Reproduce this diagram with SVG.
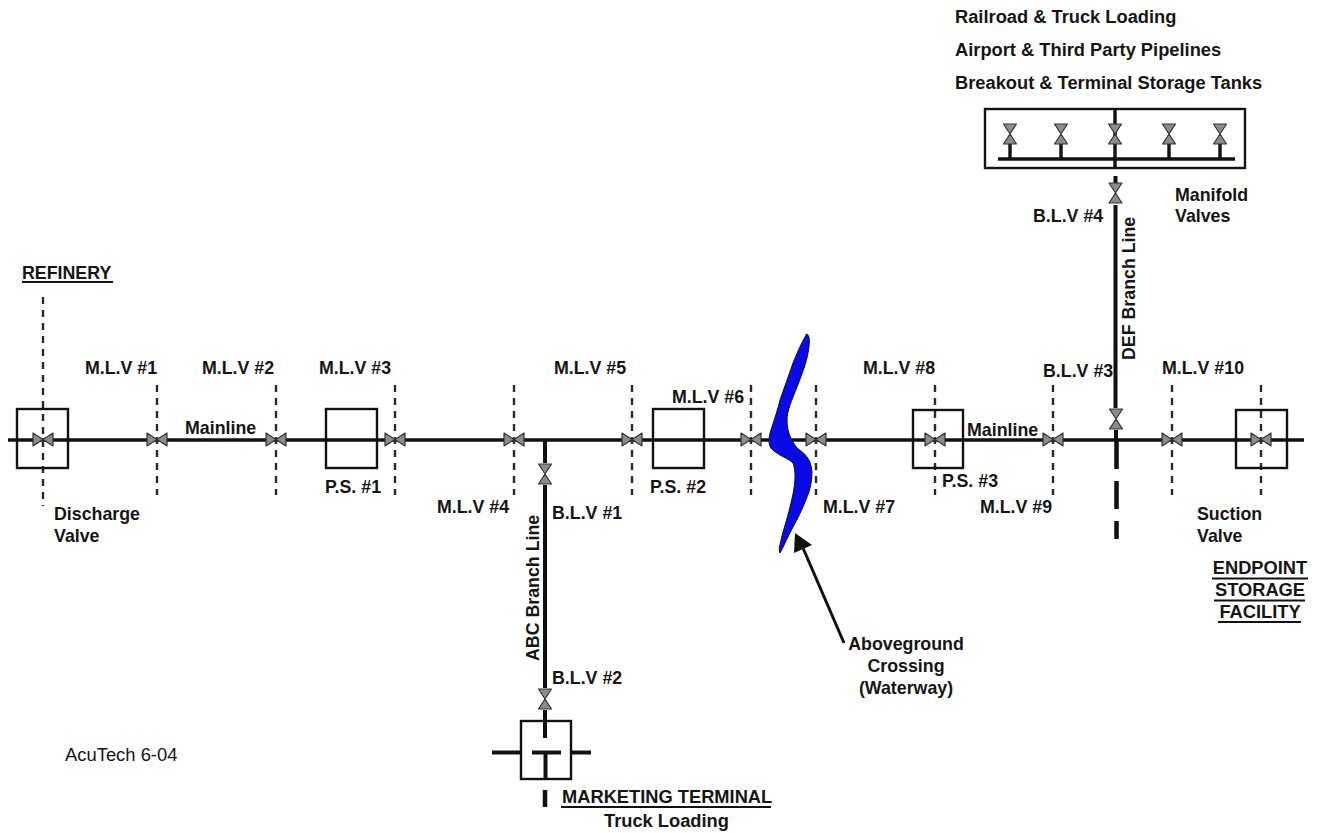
<svg xmlns="http://www.w3.org/2000/svg" width="1318" height="833" viewBox="0 0 1318 833">
<style>
text{font-family:"Liberation Sans",Arial,sans-serif;font-weight:700;font-size:17.8px;fill:#151515}
text.l{font-size:18.3px}
.n{font-weight:400;font-size:18.4px}
.m{text-anchor:middle}
.box{fill:none;stroke:#111;stroke-width:2.4}
.pipe{fill:none;stroke:#111;stroke-width:3.4}
.br{fill:none;stroke:#111;stroke-width:4}
.dash{fill:none;stroke:#2a2a2a;stroke-width:2.4;stroke-dasharray:7 6}
.thick{fill:none;stroke:#111;stroke-width:4.5}
.v{fill:#8c8c8c;stroke:#333;stroke-width:1.2;stroke-linejoin:round}
.u{fill:none;stroke:#111;stroke-width:1.8}
</style>
<defs>
<g id="vh"><path class="v" d="M-10-6.500V6.500L0 0ZM10-6.500V6.500L0 0Z"/></g>
<g id="vv"><path class="v" d="M-6.500-10H6.500L0 0ZM-6.500 10H6.500L0 0Z"/></g>
</defs>
<rect width="1318" height="833" fill="#fff"/>
<g id="connectors">
<path class="pipe" d="M8 440H1304"/>
<path class="br" d="M545 440V463M545 485V688M545 710V738M545.500 752V779"/>
<path class="br" d="M532 752.500H561M492 752.500H521M571 752.500H591"/>
<path class="thick" d="M545 790V807"/>
<path class="br" d="M1115.500 176V184M1115.500 205V408M1116 430V440"/>
<path class="thick" d="M1116.500 440V469M1116.500 481V509M1116.500 521V539"/>
<path class="pipe" d="M1115 109V168M998 159H1235M1010 144V159M1061 144V159M1169 144V159M1220 144V159"/>
<g class="dashes">
<path class="dash" d="M43 297V506"/><path class="dash" d="M157 385V495"/><path class="dash" d="M276 385V495"/><path class="dash" d="M395 385V495"/><path class="dash" d="M514 385V495"/><path class="dash" d="M632 385V495"/><path class="dash" d="M751 385V495"/><path class="dash" d="M816 385V495"/><path class="dash" d="M935 385V495"/><path class="dash" d="M1053 385V495"/><path class="dash" d="M1172 385V495"/><path class="dash" d="M1261 385V495"/>
</g>
<path fill="none" stroke="#111" stroke-width="3" d="M844 643L803 548"/>
<path fill="#111" d="M795 533L812 545L794 553Z"/>
</g>
<g id="refinery"><rect class="box" x="17" y="409" width="51" height="59"/></g>
<g id="ps1"><rect class="box" x="326" y="409" width="51" height="59"/></g>
<g id="ps2"><rect class="box" x="653" y="409" width="51" height="59"/></g>
<g id="ps3"><rect class="box" x="913" y="410" width="50" height="58"/></g>
<g id="endpoint"><rect class="box" x="1236" y="410" width="51" height="58"/></g>
<g id="marketing-terminal"><rect class="box" x="521" y="721" width="50" height="58"/></g>
<g id="manifold"><rect class="box" x="985" y="109" width="260" height="59"/></g>
<g id="waterway"><path fill="#0a0ae6" stroke="#111" stroke-width="1" d="M807 334C809 335 810 340 809 346C808 358 803 372 797 387C792 400 787 410 787 420C787 432 791 440 797 448C804 453 811 458 812 472C812 482 810 490 807 497C802 510 798 518 793 527C788 536 784 546 780 553C779 550 779 548 780 545C783 530 787 520 790 507C793 495 795 485 795 477C795 470 794 466 793 463C789 459 785 458 780 455C774 451 769 449 769 441C769 437 770 432 772 427C775 417 778 409 780 400C784 388 789 375 793 363C797 353 801 344 805 337C806 335 806 334 807 334Z"/></g>
<g id="valves">
<use href="#vh" x="43" y="439.500"/><use href="#vh" x="157" y="439.500"/><use href="#vh" x="276" y="439.500"/><use href="#vh" x="395" y="439.500"/><use href="#vh" x="514" y="439.500"/><use href="#vh" x="632" y="439.500"/><use href="#vh" x="751" y="439.500"/><use href="#vh" x="816" y="439.500"/><use href="#vh" x="935" y="439.500"/><use href="#vh" x="1053" y="439.500"/><use href="#vh" x="1172" y="439.500"/><use href="#vh" x="1261" y="439.500"/>
<use href="#vv" x="545" y="474"/><use href="#vv" x="545" y="699"/><use href="#vv" x="1116" y="419"/><use href="#vv" x="1115.500" y="193"/>
<use href="#vv" x="1010" y="134"/><use href="#vv" x="1061" y="134"/><use href="#vv" x="1115" y="134"/><use href="#vv" x="1169" y="134"/><use href="#vv" x="1220" y="134"/>
</g>
<g id="labels">
<text class="l" x="955" y="23">Railroad &amp; Truck Loading</text>
<text class="l" x="955" y="56">Airport &amp; Third Party Pipelines</text>
<text class="l" x="955" y="89">Breakout &amp; Terminal Storage Tanks</text>
<text x="1175" y="201">Manifold</text><text x="1175" y="222">Valves</text>
<text x="1033" y="222">B.L.V #4</text>
<text transform="translate(1135 360) rotate(-90)">DEF Branch Line</text>
<text x="22" y="279">REFINERY</text><path class="u" d="M22 282H113"/>
<text x="85" y="374">M.L.V #1</text><text x="202" y="374">M.L.V #2</text><text x="319" y="374">M.L.V #3</text><text x="554" y="374">M.L.V #5</text><text x="672" y="403">M.L.V #6</text><text x="863" y="374">M.L.V #8</text><text x="1043" y="377">B.L.V #3</text><text x="1162" y="374">M.L.V #10</text>
<text x="185" y="434">Mainline</text><text x="967" y="436">Mainline</text>
<text x="325" y="493">P.S. #1</text><text x="650" y="493">P.S. #2</text><text x="942" y="487">P.S. #3</text>
<text x="437" y="513">M.L.V #4</text><text x="552" y="519">B.L.V #1</text><text x="823" y="513">M.L.V #7</text><text x="980" y="513">M.L.V #9</text>
<text x="54" y="520">Discharge</text><text x="54" y="542">Valve</text>
<text x="1197" y="520">Suction</text><text x="1197" y="542">Valve</text>
<text class="m l" x="1260" y="574">ENDPOINT</text><path class="u" d="M1212 578.500H1308"/>
<text class="m l" x="1260" y="596">STORAGE</text><path class="u" d="M1214 600.500H1305"/>
<text class="m l" x="1260" y="618">FACILITY</text><path class="u" d="M1218 622H1301"/>
<text transform="translate(539 661) rotate(-90)">ABC Branch Line</text>
<text x="552" y="684">B.L.V #2</text>
<text class="m" x="906" y="650">Aboveground</text><text class="m" x="906" y="672">Crossing</text><text class="m" x="906" y="694">(Waterway)</text>
<text class="n" x="65" y="761">AcuTech 6-04</text>
<text class="l" x="562" y="803">MARKETING TERMINAL</text><path class="u" d="M561 807H771"/>
<text class="l" x="604" y="827">Truck Loading</text>
</g>
</svg>
